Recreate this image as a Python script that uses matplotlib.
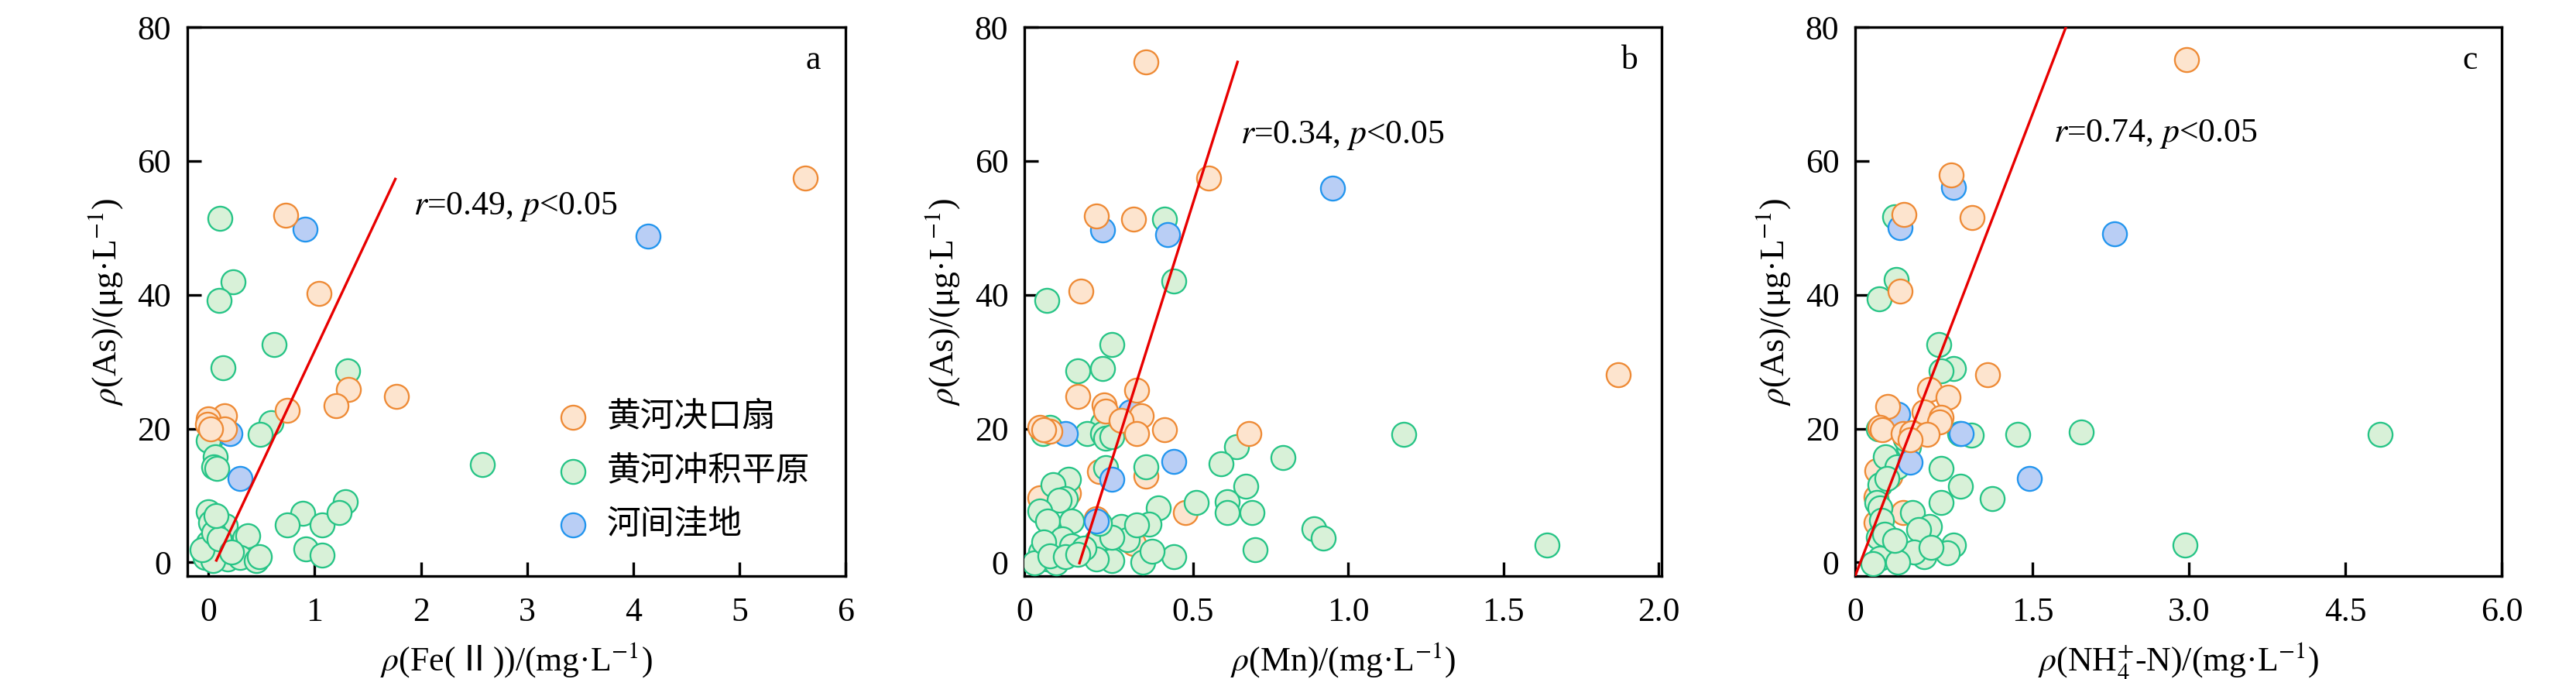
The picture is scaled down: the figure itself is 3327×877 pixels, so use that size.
#!/usr/bin/env python3
"""
As vs Fe(II) / Mn / NH4+-N scatter plots, three panels.
"""

import numpy as np
import matplotlib
matplotlib.use('Agg')
import matplotlib.pyplot as plt
from matplotlib.offsetbox import TextArea, HPacker, AnnotationBbox

# ---- data ----
group_names = ['黄河决口扇', '黄河冲积平原', '河间洼地']

# panel a: Fe(II)
fe_fan_x = [5.62, 0.73, 1.04, 1.77, 1.32, 1.20, 0.74, 0.15, 0.00, -0.01, 0.15, 0.02]
fe_fan_y = [57.5, 51.9, 40.2, 24.8, 25.9, 23.4, 22.7, 21.9, 21.4, 20.6, 19.9, 19.9]
fe_plain_x = [0.11, 0.23, 0.10, 0.62, 0.14, 1.31, 0.59, 0.49, 0.02, 0.00, 0.06, 0.05,
              0.08, 2.58, 0.00, 0.02, 0.16, 0.34, 0.37, 0.00, 0.12, 0.18, 0.30, 0.45,
              0.48, -0.03, 0.04, 0.89, 0.74, 1.07, 1.29, 1.23, 0.92, 1.07, -0.06, 0.05,
              0.10, 0.22, 0.07]
fe_plain_y = [51.4, 41.9, 39.2, 32.6, 29.1, 28.6, 20.9, 19.1, 18.5, 18.2, 15.8, 14.3,
              14.0, 14.6, 7.6, 5.9, 5.5, 3.6, 4.0, 2.9, 2.6, 0.5, 0.7, 0.3,
              0.9, 0.7, 0.3, 7.3, 5.6, 5.6, 9.1, 7.5, 2.0, 1.1, 1.9, 4.5,
              3.5, 1.5, 7.0]
fe_low_x = [0.91, 4.14, 0.20, 0.30]
fe_low_y = [49.8, 48.8, 19.3, 12.5]
fe_fit_x = [0.074, 1.76]
fe_fit_y = [0.3, 57.3]

# panel b: Mn
mn_fan_x = [0.35, 0.55, 0.19, 0.31, 0.14, 1.87, 0.32, 0.13, 0.215, 0.22, 0.335, 0.27,
            0.41, 0.32, 0.008, 0.04, 0.02, 0.20, 0.35, 0.68, 0.475, 0.008, 0.10, 0.19,
            0.31]
mn_fan_y = [74.8, 57.5, 51.8, 51.3, 40.5, 28.0, 25.7, 24.8, 23.5, 22.6, 21.9, 21.2,
            19.8, 19.2, 20.2, 19.6, 19.8, 13.6, 12.9, 19.2, 7.5, 9.6, 10.4, 6.5,
            2.8]
mn_plain_x = [0.03, 0.41, 0.44, 0.24, 0.13, 0.21, 0.21, 0.16, 0.21, 0.22, 0.017, 0.04,
              0.24, 0.22, 0.35, 0.64, 0.59, 0.79, 1.18, 0.67, 0.61, 0.61, 0.69, 0.51,
              0.39, 0.36, 0.70, 0.44, 0.34, 0.89, 0.92, 1.64, 0.10, 0.05, 0.09, 0.07,
              0.008, 0.033, 0.11, 0.08, 0.11, 0.033, 0.01, -0.01, 0.06, 0.19, 0.24, 0.19,
              0.27, 0.29, 0.32, 0.37, 0.24, 0.15, 0.20, 0.02, 0.04, 0.09, 0.13]
mn_plain_y = [39.2, 51.3, 42.0, 32.6, 28.6, 29.0, 20.8, 19.2, 19.2, 18.6, 19.2, 20.2,
              18.8, 14.2, 14.3, 17.3, 14.7, 15.7, 19.1, 11.4, 9.1, 7.5, 7.5, 9.0,
              8.1, 5.7, 1.9, 0.9, 0.0, 5.0, 3.6, 2.6, 12.4, 11.6, 9.5, 9.3,
              7.7, 6.2, 6.2, 3.5, 2.5, 0.5, 1.5, -0.1, -0.1, 3.2, 0.3, 0.5,
              5.4, 3.4, 5.6, 1.7, 3.8, 2.1, 5.8, 3.0, 1.0, 0.8, 1.2]
mn_low_x = [0.95, 0.21, 0.42, 0.09, 0.30, 0.44, 0.24, 0.19]
mn_low_y = [55.9, 49.7, 49.0, 19.3, 22.5, 15.1, 12.4, 6.2]
mn_fit_x = [0.135, 0.644]
mn_fit_y = [-0.1, 74.8]

# panel c: NH4+-N
nh_fan_x = [2.98, 0.72, 0.27, 0.92, 0.23, 1.07, 0.51, 0.69, 0.11, 0.46, 0.62, 0.61,
            0.04, 0.06, 0.26, 0.34, 0.49, 0.33, 0.005, 0.13, 0.00, 0.00, 0.26]
nh_fan_y = [75.1, 57.9, 52.0, 51.6, 40.6, 28.1, 25.8, 24.7, 23.3, 22.5, 21.7, 21.0,
            20.2, 19.8, 19.2, 19.4, 19.1, 18.3, 13.7, 12.9, 9.8, 6.0, 7.4]
nh_plain_x = [0.18, 0.19, 0.03, 0.60, 0.74, 0.62, 0.91, 0.80, 1.36, 1.97, 4.83, 2.96,
              0.025, 0.18, 0.31, 0.09, 0.20, 0.62, 0.81, 0.04, 0.62, 1.11, 0.35, 0.01,
              0.04, 0.05, 0.51, 0.41, 0.02, 0.08, 0.74, 0.68, 0.46, 0.22, 0.04, 0.36,
              0.53, 0.21, -0.03, 0.18, 0.10, 0.28]
nh_plain_y = [51.7, 42.3, 39.4, 32.6, 29.0, 28.6, 19.0, 19.3, 19.1, 19.5, 19.1, 2.6,
              20.0, 21.3, 17.3, 15.8, 14.3, 14.0, 11.4, 11.65, 9.0, 9.5, 7.5, 9.0,
              8.1, 6.3, 5.4, 4.9, 3.7, 4.2, 2.6, 1.4, 0.8, 1.5, 0.6, 1.5,
              2.3, 0.0, -0.2, 3.3, 12.5, 18.5]
nh_low_x = [0.74, 0.23, 2.29, 0.21, 0.82, 0.33, 1.47]
nh_low_y = [56.1, 50.0, 49.1, 22.2, 19.3, 15.0, 12.5]
nh_fit_x = [-0.2, 1.82]
nh_fit_y = [-2.0, 80.0]

# x labels as pieces; the roman numeral needs a CJK font
x_label_parts = [[r'$\rho$(Fe(', 'Ⅱ', r'))/(mg·L$^{-1}$)'],
                 [r'$\rho$(Mn)/(mg·L$^{-1}$)'],
                 [r'$\rho$(NH$_4^{+}$-N)/(mg·L$^{-1}$)']]
y_label = r'$\rho$(As)/(μg·L$^{-1}$)'
stat_texts = [r'$r$=0.49, $p$<0.05', r'$r$=0.34, $p$<0.05', r'$r$=0.74, $p$<0.05']
panel_letters = ['a', 'b', 'c']

x_ticks = [[0, 1, 2, 3, 4, 5, 6],
           [0, 0.5, 1.0, 1.5, 2.0],
           [0, 1.5, 3.0, 4.5, 6.0]]
x_ticklabels = [['0', '1', '2', '3', '4', '5', '6'],
                ['', '0.5', '1.0', '1.5', '2.0'],
                ['', '1.5', '3.0', '4.5', '6.0']]
x_limits = [(-0.2, 6.0), (-0.042, 2.01), (-0.2, 6.0)]
stat_pos = [(1.93, 52.0), (0.654, 62.7), (1.70, 62.9)]

# ---- style ----
fill_colors = ['#FDE4CE', '#D8F1D8', '#B9CEF5']
edge_colors = ['#EE8A35', '#26C486', '#2295EE']
FS = 10.5

plt.rcParams.update({
    'font.family': ['Liberation Serif', 'DejaVu Serif'],
    'mathtext.fontset': 'stix',
    'font.size': FS,
    'axes.linewidth': 0.8,
})


def add_xlabel(ax, parts):
    """x label built from pieces so each piece can use its own font."""
    boxes = []
    for p in parts:
        if p == 'Ⅱ':
            props = dict(fontsize=FS, family=['Noto Sans CJK SC'])
        else:
            props = dict(fontsize=FS)
        boxes.append(TextArea(p, textprops=props))
    pack = HPacker(children=boxes, align='baseline', pad=0, sep=0.5)
    ab = AnnotationBbox(pack, (0.5, 0), xycoords='axes fraction',
                        xybox=(0, -20.0), boxcoords='offset points',
                        box_alignment=(0.5, 1.0), frameon=False,
                        annotation_clip=False, pad=0)
    ax.add_artist(ab)


def scatter_group(ax, xs, ys, g, z):
    return ax.scatter(xs, ys, s=56, facecolor=fill_colors[g],
                      edgecolor=edge_colors[g], linewidths=0.55,
                      label=group_names[g], zorder=z)


def draw_panel(ax, k, groups, fit):
    fan_x, fan_y = np.asarray(groups[0][0]), np.asarray(groups[0][1])
    # low-As fan samples sit under the plain cluster, the rest on top
    under = fan_y < 15
    h_fan = scatter_group(ax, fan_x[~under], fan_y[~under], 0, 4)
    scatter_group(ax, fan_x[under], fan_y[under], 0, 2)
    h_plain = scatter_group(ax, groups[1][0], groups[1][1], 1, 3)
    h_low = scatter_group(ax, groups[2][0], groups[2][1], 2, 3.5)
    ax.plot(fit[0], fit[1], color='#E80000', lw=0.8, zorder=6)

    ax.set_xlim(*x_limits[k])
    ax.set_ylim(-2, 80)
    ax.set_xticks(x_ticks[k])
    ax.set_xticklabels(x_ticklabels[k])
    ax.set_yticks([0, 20, 40, 60, 80])
    ax.tick_params(axis='both', direction='in', length=4.3, width=0.8,
                   labelsize=FS, top=False, right=False)
    ax.tick_params(axis='x', pad=6.5)
    ax.tick_params(axis='y', pad=5.0)
    if x_ticklabels[k][0] == '':
        # the "0" label sits at the left frame edge
        ax.annotate('0', xy=(0, 0), xycoords='axes fraction', xytext=(0, -6.5),
                    textcoords='offset points', ha='center', va='top', fontsize=FS)

    add_xlabel(ax, x_label_parts[k])
    ax.set_ylabel(y_label, fontsize=FS, labelpad=4)
    ax.text(stat_pos[k][0], stat_pos[k][1], stat_texts[k], fontsize=FS,
            ha='left', va='baseline')
    ax.text(0.962, 0.94, panel_letters[k], transform=ax.transAxes, fontsize=FS,
            ha='right', va='center')
    return [h_fan, h_plain, h_low]


def main():
    fig = plt.figure(figsize=(3327 / 300, 877 / 300), dpi=300)
    rects = [[0.0727, 0.152, 0.2555, 0.808],
             [0.3977, 0.152, 0.2474, 0.808],
             [0.7202, 0.152, 0.2510, 0.808]]
    data = [
        ([(fe_fan_x, fe_fan_y), (fe_plain_x, fe_plain_y), (fe_low_x, fe_low_y)],
         (fe_fit_x, fe_fit_y)),
        ([(mn_fan_x, mn_fan_y), (mn_plain_x, mn_plain_y), (mn_low_x, mn_low_y)],
         (mn_fit_x, mn_fit_y)),
        ([(nh_fan_x, nh_fan_y), (nh_plain_x, nh_plain_y), (nh_low_x, nh_low_y)],
         (nh_fit_x, nh_fit_y)),
    ]
    for k, rect in enumerate(rects):
        ax = fig.add_axes(rect)
        groups, fit = data[k]
        hs = draw_panel(ax, k, groups, fit)
        if k == 0:
            ax.legend(hs, group_names, loc='lower left',
                      bbox_to_anchor=(0.56, 0.062), frameon=False,
                      prop={'family': ['Noto Sans CJK SC'], 'size': FS},
                      handlelength=1.0, handletextpad=0.5, labelspacing=0.54,
                      borderaxespad=0, borderpad=0)

    fig.savefig('out.png', dpi=300)
    plt.close(fig)
    return 0


if __name__ == '__main__':
    exit(main())
